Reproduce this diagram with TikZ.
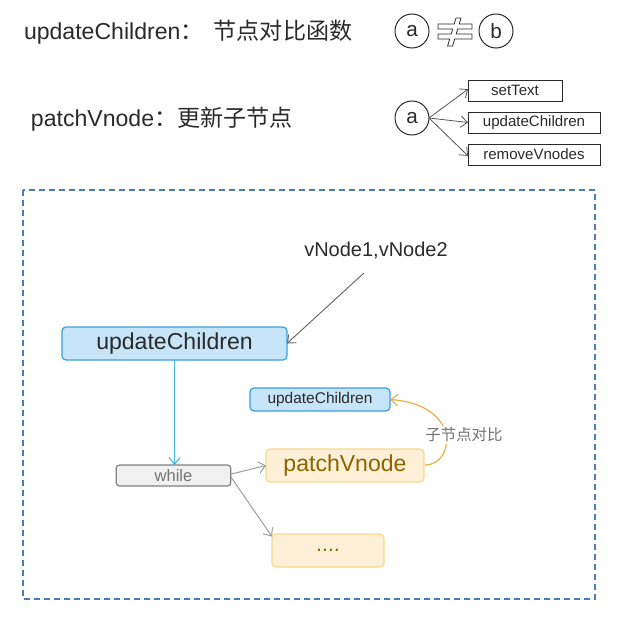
\documentclass[tikz,border=0pt]{standalone}
\usepackage{fontspec}
\setmainfont{Liberation Sans}
\newfontfamily\cjk{Noto Sans CJK SC}
\usetikzlibrary{arrows.meta}
\definecolor{bluefill}{HTML}{C7E5F9}
\definecolor{blueline}{HTML}{3D9EE0}
\definecolor{bluearrow}{HTML}{45B5EF}
\definecolor{yelfill}{HTML}{FDF0D6}
\definecolor{yelline}{HTML}{F8D98E}
\definecolor{yeltext}{HTML}{8F6400}
\definecolor{orangeline}{HTML}{E9B13F}
\definecolor{dashblue}{HTML}{4A7CB9}
\definecolor{txt}{HTML}{2A2A2A}
\begin{document}
\begin{tikzpicture}[x=0.75pt,y=-0.75pt,
  every node/.style={inner sep=0pt,outer sep=0pt},
  circ/.style={draw=txt,circle,minimum size=25.5pt,line width=0.75pt,font=\fontsize{15.5}{15.5}\selectfont,text=txt},
  smallbox/.style={draw=txt,line width=0.6pt,minimum height=15.75pt,font=\fontsize{11.3}{11.3}\selectfont,text=txt},
  tip/.style={-{Straight Barb[length=5pt,width=8.5pt]}},
  bluebox/.style={draw=blueline,fill=bluefill,rounded corners=3pt,line width=0.9pt,text=txt},
  yelbox/.style={draw=yelline,fill=yelfill,rounded corners=3pt,line width=0.9pt,text=yeltext}]
\useasboundingbox (0,0) rectangle (622,617);
% legend
\node[anchor=west,text=txt,font=\fontsize{17.3}{17.3}\selectfont] (t1) at (24,32) {updateChildren{\cjk ：\ \ 节点对比函数}};
\node[anchor=west,text=txt,font=\fontsize{17.3}{17.3}\selectfont] (t2) at (31,119) {patchVnode{\cjk ：更新子节点}};
\node[circ] (a1) at (412,31) {a};
\node[circ] (b1) at (496,31) {b};
\draw[txt,line width=0.6pt,fill=white] (456,18) -- (461,18) -- (459.2,24) -- (472,24) -- (472,29) -- (457.7,29) -- (456.2,34) -- (472,34) -- (472,39) -- (454.7,39) -- (452.6,46) -- (447.6,46) -- (449.7,39) -- (438,39) -- (438,34) -- (451.2,34) -- (452.7,29) -- (438,29) -- (438,24) -- (454.2,24) -- cycle;
\node[circ] (a2) at (412,118) {a};
\node[smallbox,minimum width=70.5pt] (s1) at (515,90.5) {setText};
\node[smallbox,minimum width=99pt] (s2) at (534,122.5) {updateChildren};
\node[smallbox,minimum width=99pt] (s3) at (534,154.5) {removeVnodes};
\draw[txt!80,line width=0.6pt,tip] (a2.east) -- ([yshift=1pt]s1.west);
\draw[txt!80,line width=0.6pt,tip] (a2.east) -- (s2.west);
\draw[txt!80,line width=0.6pt,tip] (a2.east) -- ([yshift=-1pt]s3.west);
% dashed frame
\draw[dashblue,line width=0.9pt,dash pattern=on 4.5pt off 3pt] (23,190) rectangle (595,599);
% main diagram
\node[text=txt,font=\fontsize{15}{15}\selectfont] (v) at (376,251) {vNode1,vNode2};
\node[bluebox,minimum width=168.75pt,minimum height=24.75pt,font=\fontsize{17.3}{17.3}\selectfont] (uc) at (174.5,343.5) {updateChildren};
\draw[black!60,line width=0.7pt,tip] (364,273) -- (uc.east);
\node[draw=black!50,fill=black!6,rounded corners=2.5pt,line width=0.9pt,minimum width=86pt,minimum height=15.75pt,text=black!55,font=\fontsize{12.4}{12.4}\selectfont] (w) at (173.5,475.5) {while};
\draw[bluearrow,line width=0.8pt,tip] (uc.south) -- (uc.south |- w.north);
\node[yelbox,minimum width=118.5pt,minimum height=24.75pt,font=\fontsize{17.3}{17.3}\selectfont] (pv) at (345,465.5) {patchVnode};
\node[yelbox,minimum width=84pt,minimum height=24.75pt,font=\fontsize{16}{16}\selectfont] (dots) at (328,550.5) {....};
\node[bluebox,minimum width=105pt,minimum height=17.25pt,font=\fontsize{11.6}{11.6}\selectfont] (uc2) at (320,399.5) {updateChildren};
\draw[black!40,line width=0.7pt,tip] ([yshift=1pt]w.east) -- (pv.west);
\draw[black!40,line width=0.7pt,tip] ([yshift=-1pt]w.east) -- ([yshift=-2pt]dots.north west);
\coordinate (cs) at (425,465);
\draw[orangeline,line width=0.9pt,tip] (cs) .. controls (455,465) and (462,405) .. (uc2.east);
\node[fill=white,inner sep=1.5pt,text=black!55,font=\cjk\fontsize{11.6}{11.6}\selectfont] (lab) at (464,435) {子节点对比};
\end{tikzpicture}
\end{document}
